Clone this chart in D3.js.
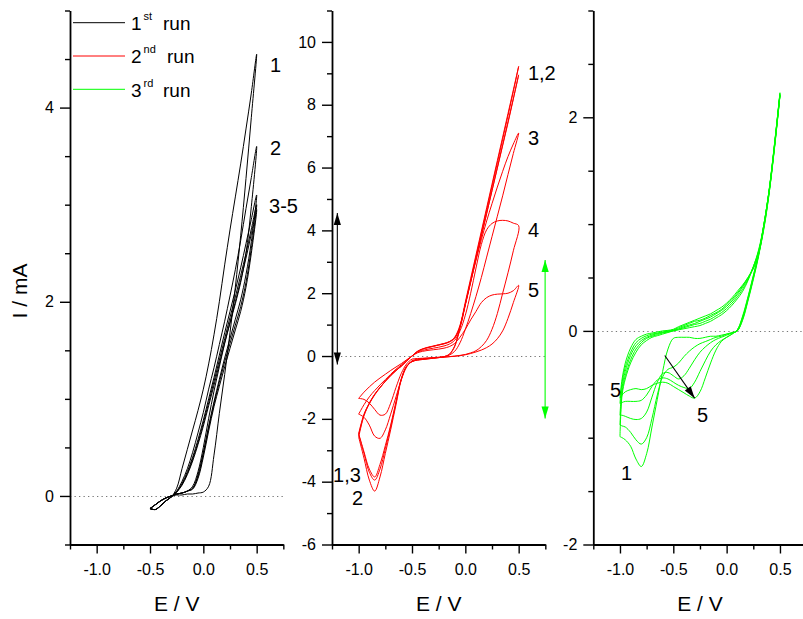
<!DOCTYPE html>
<html><head><meta charset="utf-8">
<script src="https://cdn.jsdelivr.net/npm/d3@7"></script>
<style>body{margin:0;background:#fff}svg{display:block}</style>
</head><body><svg id="c" width="803" height="619"></svg>
<script>
// ---------- DATA ----------
// shared x ticks (E / V)
const xTicksMajor = [-1.0, -0.5, 0.0, 0.5];
const xTicksMinor = [-1.25, -0.75, -0.25, 0.25, 0.75];

// Panel 1: 1st run (black)
const run1E = [-0.5,-0.45,-0.4,-0.35,-0.3,-0.25,-0.2,-0.15,-0.1,-0.05,0,0.05,0.1,0.15,0.2,0.25,0.3,0.35,0.4,0.45,0.5];
const run1Forward = [
  [-0.13,-0.09,-0.05,-0.02,0.0,0.01,0.01,0.02,0.02,0.03,0.04,0.1,0.42,0.85,1.25,1.68,2.15,2.68,3.27,3.9,4.55],
  [-0.13,-0.09,-0.05,-0.02,0.0,0.02,0.03,0.05,0.1,0.25,0.5,0.8,1.08,1.33,1.57,1.78,1.98,2.2,2.5,2.98,3.6],
  [-0.13,-0.09,-0.05,-0.02,0.0,0.02,0.03,0.05,0.08,0.22,0.45,0.72,0.97,1.2,1.42,1.62,1.82,2.02,2.28,2.62,3.1],
  [-0.13,-0.09,-0.05,-0.02,0.0,0.02,0.03,0.05,0.08,0.2,0.43,0.7,0.95,1.17,1.38,1.57,1.76,1.95,2.2,2.55,3.0],
  [-0.13,-0.09,-0.05,-0.02,0.0,0.02,0.03,0.05,0.07,0.18,0.4,0.67,0.92,1.13,1.33,1.52,1.71,1.9,2.15,2.5,2.95]
];
const run1Reverse = [
  [-0.13,-0.14,-0.1,-0.05,-0.01,0.08,0.28,0.48,0.68,0.88,1.1,1.36,1.66,2.0,2.38,2.74,3.08,3.42,3.78,4.15,4.55],
  [-0.13,-0.14,-0.1,-0.05,-0.01,0.05,0.15,0.28,0.45,0.65,0.86,1.1,1.32,1.56,1.8,2.06,2.33,2.63,2.96,3.28,3.6],
  [-0.13,-0.14,-0.1,-0.05,-0.01,0.04,0.13,0.25,0.4,0.58,0.78,1.0,1.22,1.45,1.68,1.9,2.12,2.35,2.6,2.85,3.1],
  [-0.13,-0.14,-0.1,-0.05,-0.01,0.04,0.12,0.23,0.38,0.55,0.75,0.96,1.18,1.4,1.62,1.84,2.05,2.27,2.5,2.75,3.0],
  [-0.13,-0.14,-0.1,-0.05,-0.01,0.04,0.11,0.22,0.36,0.53,0.72,0.93,1.14,1.36,1.58,1.79,2.0,2.22,2.45,2.7,2.95]
];
const run1YMajor = [0, 2, 4];
const run1YMinor = [-0.5, 0.5, 1, 1.5, 2.5, 3, 3.5, 4.5, 5];

// Panel 2: 2nd run (red)
const run2E = [-1.0,-0.95,-0.9,-0.85,-0.8,-0.75,-0.7,-0.65,-0.6,-0.55,-0.5,-0.45,-0.4,-0.35,-0.3,-0.25,-0.2,-0.15,-0.1,-0.05,0,0.05,0.1,0.15,0.2,0.25,0.3,0.35,0.4,0.45,0.5];
const run2Forward = [
  [-2.47,-1.85,-1.5,-1.22,-1.0,-0.8,-0.62,-0.46,-0.32,-0.16,0.0,0.14,0.22,0.27,0.31,0.35,0.39,0.45,0.6,0.98,1.72,2.47,3.22,3.97,4.72,5.47,6.22,6.97,7.72,8.47,9.22],
  [-2.58,-1.9,-1.52,-1.24,-1.01,-0.8,-0.62,-0.46,-0.32,-0.16,0.0,0.15,0.23,0.28,0.32,0.36,0.4,0.46,0.58,0.92,1.62,2.35,3.08,3.81,4.54,5.27,6.0,6.73,7.46,8.2,8.95],
  [-2.5,-1.88,-1.5,-1.22,-1.0,-0.8,-0.62,-0.46,-0.32,-0.16,0.0,0.14,0.22,0.27,0.31,0.35,0.39,0.45,0.56,0.95,1.65,2.35,3.05,3.7,4.3,4.85,5.38,5.88,6.35,6.75,7.1],
  [-1.85,-1.55,-1.3,-1.1,-0.92,-0.75,-0.58,-0.42,-0.28,-0.13,0.0,0.12,0.18,0.22,0.25,0.28,0.32,0.38,0.5,0.8,1.3,2.0,2.8,3.55,4.02,4.22,4.3,4.32,4.3,4.23,4.15],
  [-1.35,-1.15,-0.98,-0.83,-0.7,-0.58,-0.46,-0.35,-0.24,-0.12,0.0,0.1,0.15,0.18,0.2,0.22,0.25,0.3,0.4,0.6,0.85,1.15,1.42,1.7,1.86,1.94,1.97,1.98,2.0,2.08,2.25]
];
const run2Reverse = [
  [-2.47,-3.05,-3.6,-3.85,-3.45,-2.85,-2.2,-1.45,-0.72,-0.32,-0.18,-0.13,-0.11,-0.09,-0.07,-0.05,-0.02,0.05,0.3,0.9,1.65,2.4,3.15,3.9,4.65,5.4,6.15,6.9,7.65,8.42,9.22],
  [-2.58,-3.25,-3.95,-4.3,-3.85,-3.1,-2.35,-1.55,-0.75,-0.33,-0.18,-0.13,-0.11,-0.09,-0.07,-0.05,-0.02,0.06,0.32,0.92,1.66,2.38,3.1,3.82,4.54,5.26,5.98,6.7,7.42,8.18,8.95],
  [-2.5,-3.1,-3.7,-3.95,-3.6,-2.95,-2.25,-1.5,-0.73,-0.32,-0.17,-0.12,-0.1,-0.08,-0.06,-0.04,-0.02,0.03,0.15,0.42,0.85,1.35,1.9,2.5,3.15,3.8,4.45,5.1,5.78,6.45,7.1],
  [-1.85,-1.95,-2.2,-2.55,-2.62,-2.35,-1.85,-1.3,-0.75,-0.35,-0.15,-0.1,-0.08,-0.07,-0.06,-0.05,-0.04,-0.02,0.0,0.02,0.05,0.1,0.17,0.3,0.5,0.85,1.35,2.0,2.65,3.35,4.15],
  [-1.35,-1.38,-1.5,-1.7,-1.88,-1.85,-1.5,-1.0,-0.55,-0.25,-0.1,-0.08,-0.07,-0.06,-0.05,-0.04,-0.03,-0.02,-0.01,0.01,0.04,0.08,0.13,0.19,0.27,0.38,0.55,0.8,1.2,1.7,2.25]
];
const run2YMajor = [-6, -4, -2, 0, 2, 4, 6, 8, 10];
const run2YMinor = [-5, -3, -1, 1, 3, 5, 7, 9, 11];

// Panel 3: 3rd run (green)
const run3E = [-1.0,-0.98,-0.95,-0.9,-0.85,-0.8,-0.75,-0.7,-0.65,-0.6,-0.55,-0.5,-0.45,-0.4,-0.35,-0.3,-0.25,-0.2,-0.15,-0.1,-0.05,0,0.05,0.1,0.15,0.2,0.25,0.3,0.35,0.4,0.45,0.5];
const run3Forward = [
  [-0.99,-0.6,-0.45,-0.3,-0.2,-0.13,-0.09,-0.06,-0.045,-0.03,-0.015,0.0,0.01,0.02,0.03,0.04,0.05,0.07,0.09,0.12,0.15,0.19,0.24,0.3,0.37,0.47,0.6,0.76,1.0,1.33,1.76,2.23],
  [-0.88,-0.57,-0.42,-0.27,-0.17,-0.11,-0.07,-0.05,-0.035,-0.02,-0.01,0.0,0.015,0.03,0.045,0.06,0.07,0.09,0.11,0.14,0.17,0.21,0.26,0.32,0.39,0.48,0.6,0.75,0.99,1.32,1.75,2.22],
  [-0.79,-0.53,-0.38,-0.23,-0.14,-0.09,-0.06,-0.04,-0.025,-0.015,-0.005,0.005,0.02,0.04,0.055,0.07,0.09,0.11,0.13,0.16,0.19,0.23,0.28,0.34,0.41,0.49,0.6,0.74,0.98,1.31,1.74,2.21],
  [-0.68,-0.48,-0.34,-0.2,-0.11,-0.07,-0.045,-0.03,-0.02,-0.01,0.0,0.01,0.03,0.05,0.07,0.09,0.1,0.12,0.145,0.17,0.2,0.245,0.295,0.355,0.42,0.5,0.59,0.73,0.97,1.3,1.73,2.21],
  [-0.63,-0.45,-0.3,-0.16,-0.08,-0.05,-0.03,-0.02,-0.01,0.0,0.005,0.015,0.04,0.06,0.08,0.1,0.12,0.14,0.16,0.19,0.22,0.26,0.31,0.37,0.43,0.5,0.58,0.72,0.96,1.3,1.72,2.2]
];
const run3Reverse = [
  [-0.99,-1.0,-1.02,-1.08,-1.2,-1.27,-1.15,-0.9,-0.64,-0.38,-0.17,-0.07,-0.06,-0.06,-0.06,-0.07,-0.07,-0.06,-0.05,-0.05,-0.04,-0.03,-0.02,0.0,0.1,0.28,0.48,0.7,0.98,1.32,1.75,2.23],
  [-0.88,-0.89,-0.9,-0.95,-1.02,-1.06,-1.0,-0.82,-0.6,-0.43,-0.36,-0.34,-0.3,-0.24,-0.19,-0.15,-0.12,-0.1,-0.08,-0.06,-0.05,-0.03,-0.015,0.0,0.11,0.29,0.49,0.71,0.99,1.33,1.76,2.22],
  [-0.79,-0.79,-0.8,-0.82,-0.83,-0.82,-0.76,-0.62,-0.48,-0.4,-0.39,-0.42,-0.45,-0.42,-0.35,-0.27,-0.2,-0.15,-0.11,-0.08,-0.06,-0.04,-0.02,0.0,0.12,0.3,0.5,0.72,1.0,1.33,1.75,2.21],
  [-0.68,-0.67,-0.66,-0.66,-0.66,-0.65,-0.6,-0.52,-0.46,-0.44,-0.45,-0.48,-0.51,-0.53,-0.54,-0.48,-0.38,-0.28,-0.19,-0.13,-0.09,-0.06,-0.03,0.01,0.13,0.31,0.51,0.72,1.0,1.32,1.74,2.21],
  [-0.63,-0.6,-0.57,-0.55,-0.54,-0.55,-0.54,-0.51,-0.49,-0.48,-0.49,-0.52,-0.55,-0.58,-0.61,-0.63,-0.57,-0.44,-0.3,-0.18,-0.1,-0.06,-0.03,0.01,0.14,0.32,0.52,0.73,1.0,1.32,1.73,2.2]
];
const run3YMajor = [-2, 0, 2];
const run3YMinor = [-1.5, -1, -0.5, 0.5, 1, 1.5, 2.5, 3];

// legend
const legendNames = [["1", "st"], ["2", "nd"], ["3", "rd"]];
const runColors = ["#000000", "#ff0000", "#00ff00"];

// curve labels [panel, text, E, I]
const curveLabels = [
  [0, "1", 0.625, 4.37], [0, "2", 0.625, 3.51], [0, "3-5", 0.616, 2.91],
  [1, "1,2", 0.587, 8.79], [1, "3", 0.587, 6.72], [1, "4", 0.587, 3.79], [1, "5", 0.587, 1.88],
  [1, "1,3", -1.24, -4.01], [1, "2", -1.062, -4.75],
  [2, "5", -1.093, -0.62], [2, "5", -0.278, -0.853], [2, "1", -0.99, -1.4]
];
// arrows [panel, E1, I1, E2, I2, colour, double]
const arrows = [
  [1, -1.2, -0.27, -1.2, 4.55, "#000000", true],
  [1, 0.748, -1.99, 0.748, 3.06, "#00ff00", true],
  [2, -0.58, -0.23, -0.30, -0.63, "#000000", false]
];

// ---------- DRAW ----------
const FONT = "'Liberation Sans', Arial, Helvetica, sans-serif";
const svg = d3.select("#c");
svg.append("rect").attr("width", 803).attr("height", 619).attr("fill", "#fff");
const TOP = 10.5, BOTTOM = 544.5, W = 213.33;

const panels = [
  {left: 70, yDomain: [-0.5, 5], yMajor: run1YMajor, yMinor: run1YMinor, E: run1E, fwd: run1Forward, rev: run1Reverse, color: runColors[0]},
  {left: 332, yDomain: [-6, 11], yMajor: run2YMajor, yMinor: run2YMinor, E: run2E, fwd: run2Forward, rev: run2Reverse, color: runColors[1]},
  {left: 593.3, yDomain: [-2, 3], yMajor: run3YMajor, yMinor: run3YMinor, E: run3E, fwd: run3Forward, rev: run3Reverse, color: runColors[2]}
];

panels.forEach(p => {
  p.x = d3.scaleLinear().domain([-1.25, 0.75]).range([p.left, p.left + W]);
  p.y = d3.scaleLinear().domain(p.yDomain).range([BOTTOM, TOP]);
});

panels.forEach(p => {
  const g = svg.append("g");
  const x = p.x, y = p.y;
  // zero line
  g.append("line").attr("x1", x(-1.25)).attr("x2", x(0.75))
    .attr("y1", Math.round(y(0)) + 0.5).attr("y2", Math.round(y(0)) + 0.5)
    .attr("stroke", "#777").attr("stroke-width", 1.2).attr("stroke-dasharray", "1.3,3.2");
  // curves
  const line = d3.line().x(d => x(d[0])).y(d => y(d[1])).curve(d3.curveCatmullRom.alpha(0.5));
  p.fwd.forEach((f, k) => {
    const pts = f.map((v, i) => [p.E[i], v]);
    const r = p.rev[k];
    for (let i = r.length - 2; i >= 0; i--) pts.push([p.E[i], r[i]]);
    g.append("path").attr("d", line(pts)).attr("fill", "none")
      .attr("stroke", p.color).attr("stroke-width", 1).attr("stroke-linejoin", "round");
  });
  // axes
  const styleAxis = sel => {
    sel.selectAll("line").attr("stroke", "#000").attr("stroke-width", 1.4);
    sel.selectAll("text").attr("font-family", FONT).attr("font-size", 16).attr("fill", "#000");
  };
  const yMin = g.append("g").attr("transform", `translate(${p.left},0)`)
    .call(d3.axisLeft(y).tickValues(p.yMinor).tickSize(5).tickFormat(""));
  yMin.select(".domain").remove(); styleAxis(yMin);
  const yMaj = g.append("g").attr("transform", `translate(${p.left},0)`)
    .call(d3.axisLeft(y).tickValues(p.yMajor).tickSize(10).tickSizeOuter(0).tickPadding(6).tickFormat(d => String(d)));
  yMaj.select(".domain").attr("stroke", "#000").attr("stroke-width", 1.8); styleAxis(yMaj);
  const xMin = g.append("g").attr("transform", `translate(0,${BOTTOM})`)
    .call(d3.axisBottom(x).tickValues(xTicksMinor).tickSize(5).tickFormat(""));
  xMin.select(".domain").remove(); styleAxis(xMin);
  const xMaj = g.append("g").attr("transform", `translate(0,${BOTTOM})`)
    .call(d3.axisBottom(x).tickValues(xTicksMajor).tickSize(9).tickSizeOuter(0).tickPadding(10).tickFormat(d => d.toFixed(1)));
  xMaj.select(".domain").attr("stroke", "#000").attr("stroke-width", 1.8); styleAxis(xMaj);
  // x title
  g.append("text").attr("x", x(-0.25)).attr("y", 611).attr("text-anchor", "middle")
    .attr("font-family", FONT).attr("font-size", 21).text("E / V");
});

// y title
svg.append("text").attr("transform", "translate(27,291) rotate(-90)").attr("text-anchor", "middle")
  .attr("font-family", FONT).attr("font-size", 21).text("I / mA");

// legend
const runX = [163, 167, 163];
legendNames.forEach((n, i) => {
  const yy = 22.7 + i * 33.3;
  svg.append("line").attr("x1", 73).attr("x2", 125).attr("y1", yy).attr("y2", yy)
    .attr("stroke", runColors[i]).attr("stroke-width", 1);
  const t = svg.append("text").attr("x", 131).attr("y", yy + 7.3).attr("font-family", FONT).attr("font-size", 19);
  t.append("tspan").text(n[0]);
  t.append("tspan").attr("font-size", 11).attr("dx", 2).attr("dy", -10).text(n[1]);
  t.append("tspan").attr("x", runX[i]).attr("dy", 10).text("run");
});

// arrows
const head = (g, x1, y1, x2, y2, c) => {
  const a = Math.atan2(y2 - y1, x2 - x1), L = 12, H = 3.6;
  const bx = x2 - L * Math.cos(a), by = y2 - L * Math.sin(a);
  const pts = [[x2, y2], [bx + H * Math.sin(a), by - H * Math.cos(a)], [bx - H * Math.sin(a), by + H * Math.cos(a)]];
  g.append("polygon").attr("points", pts.map(q => q.join(",")).join(" ")).attr("fill", c);
};
arrows.forEach(a => {
  const p = panels[a[0]];
  const x1 = p.x(a[1]), y1 = p.y(a[2]), x2 = p.x(a[3]), y2 = p.y(a[4]);
  const g = svg.append("g");
  g.append("line").attr("x1", x1).attr("y1", y1).attr("x2", x2).attr("y2", y2)
    .attr("stroke", a[5]).attr("stroke-width", 1.1);
  head(g, x1, y1, x2, y2, a[5]);
  if (a[6]) head(g, x2, y2, x1, y1, a[5]);
});

// curve labels
curveLabels.forEach(l => {
  const p = panels[l[0]];
  svg.append("text").attr("x", p.x(l[2])).attr("y", p.y(l[3]))
    .attr("font-family", FONT).attr("font-size", 20).attr("fill", "#000").text(l[1]);
});
</script></body></html>
